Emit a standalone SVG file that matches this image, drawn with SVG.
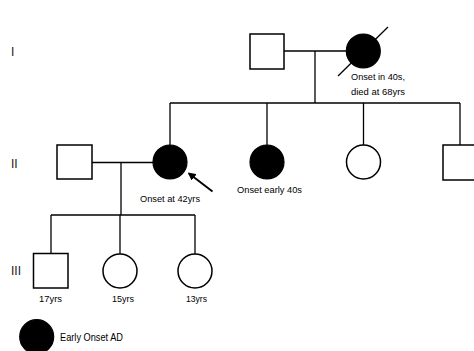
<svg xmlns="http://www.w3.org/2000/svg" width="474" height="351" viewBox="0 0 474 351">
<defs>
<style>
.ln{stroke:#000;stroke-width:1.3;fill:none}
.ar{stroke:#000;stroke-width:1.9;fill:none}
.m{fill:#fff;stroke:#000;stroke-width:1.5}
.f{fill:#000;stroke:#000;stroke-width:1.2}
.lb{font-family:"Liberation Sans",Arial,sans-serif;font-size:9.5px;fill:#000}
.gen{font-family:"Liberation Sans",Arial,sans-serif;font-size:12px;fill:#222}
</style>
<marker id="ah" viewBox="0 0 10 10" refX="8" refY="5" markerWidth="8" markerHeight="8" orient="auto" markerUnits="userSpaceOnUse">
<path d="M0,0 L10,5 L0,10 z" fill="#000"/>
</marker>
</defs>
<rect width="474" height="351" fill="#fff"/>
<text class="gen" x="11" y="56">I</text>
<text class="gen" x="11" y="168">II</text>
<text class="gen" x="11" y="275">III</text>
<g id="connectors">
<line class="ln" x1="284" y1="51" x2="346" y2="51"/>
<line class="ln" x1="315" y1="51" x2="315" y2="103"/>
<line class="ln" x1="170" y1="103" x2="460" y2="103"/>
<line class="ln" x1="170" y1="103" x2="170" y2="145"/>
<line class="ln" x1="267" y1="103" x2="267" y2="145"/>
<line class="ln" x1="363.5" y1="103" x2="363.5" y2="145"/>
<line class="ln" x1="460" y1="103" x2="460" y2="145"/>
<line class="ln" x1="92" y1="162.5" x2="153" y2="162.5"/>
<line class="ln" x1="121" y1="162.5" x2="121" y2="215"/>
<line class="ln" x1="51" y1="215" x2="195" y2="215"/>
<line class="ln" x1="51" y1="215" x2="51" y2="253"/>
<line class="ln" x1="120" y1="215" x2="120" y2="254"/>
<line class="ln" x1="195" y1="215" x2="195" y2="254"/>
</g>
<g id="I-1"><rect class="m" x="250" y="34" width="34" height="35"/></g>
<g id="I-2">
<circle class="f" cx="363.3" cy="51" r="17"/>
<line class="ln" x1="338" y1="76" x2="388" y2="27"/>
<text class="lb" x="351" y="80" textLength="54" lengthAdjust="spacingAndGlyphs">Onset in 40s,</text>
<text class="lb" x="351" y="95" textLength="54" lengthAdjust="spacingAndGlyphs">died at 68yrs</text>
</g>
<g id="II-0"><rect class="m" x="57" y="145" width="35" height="34"/></g>
<g id="II-1">
<circle class="f" cx="170" cy="162" r="17"/>
<line class="ar" x1="212.5" y1="191.5" x2="189" y2="173.5" marker-end="url(#ah)"/>
<text class="lb" x="140" y="202" textLength="60" lengthAdjust="spacingAndGlyphs">Onset at 42yrs</text>
</g>
<g id="II-2">
<circle class="f" cx="267" cy="162" r="17"/>
<text class="lb" x="237" y="193" textLength="65" lengthAdjust="spacingAndGlyphs">Onset early 40s</text>
</g>
<g id="II-3"><circle class="m" cx="363.5" cy="162" r="17"/></g>
<g id="II-4"><rect class="m" x="443" y="145" width="34" height="35"/></g>
<g id="III-1">
<rect class="m" x="33.5" y="253.5" width="34.5" height="34.5"/>
<text class="lb" x="39" y="302" textLength="23" lengthAdjust="spacingAndGlyphs">17yrs</text>
</g>
<g id="III-2">
<circle class="m" cx="120" cy="271" r="17"/>
<text class="lb" x="112" y="302" textLength="22" lengthAdjust="spacingAndGlyphs">15yrs</text>
</g>
<g id="III-3">
<circle class="m" cx="195" cy="271" r="17"/>
<text class="lb" x="186" y="302" textLength="21" lengthAdjust="spacingAndGlyphs">13yrs</text>
</g>
<g id="legend">
<circle class="f" cx="36.7" cy="336.7" r="17"/>
<text class="lb" x="60" y="341" style="font-size:11px" textLength="63" lengthAdjust="spacingAndGlyphs">Early Onset AD</text>
</g>
</svg>
